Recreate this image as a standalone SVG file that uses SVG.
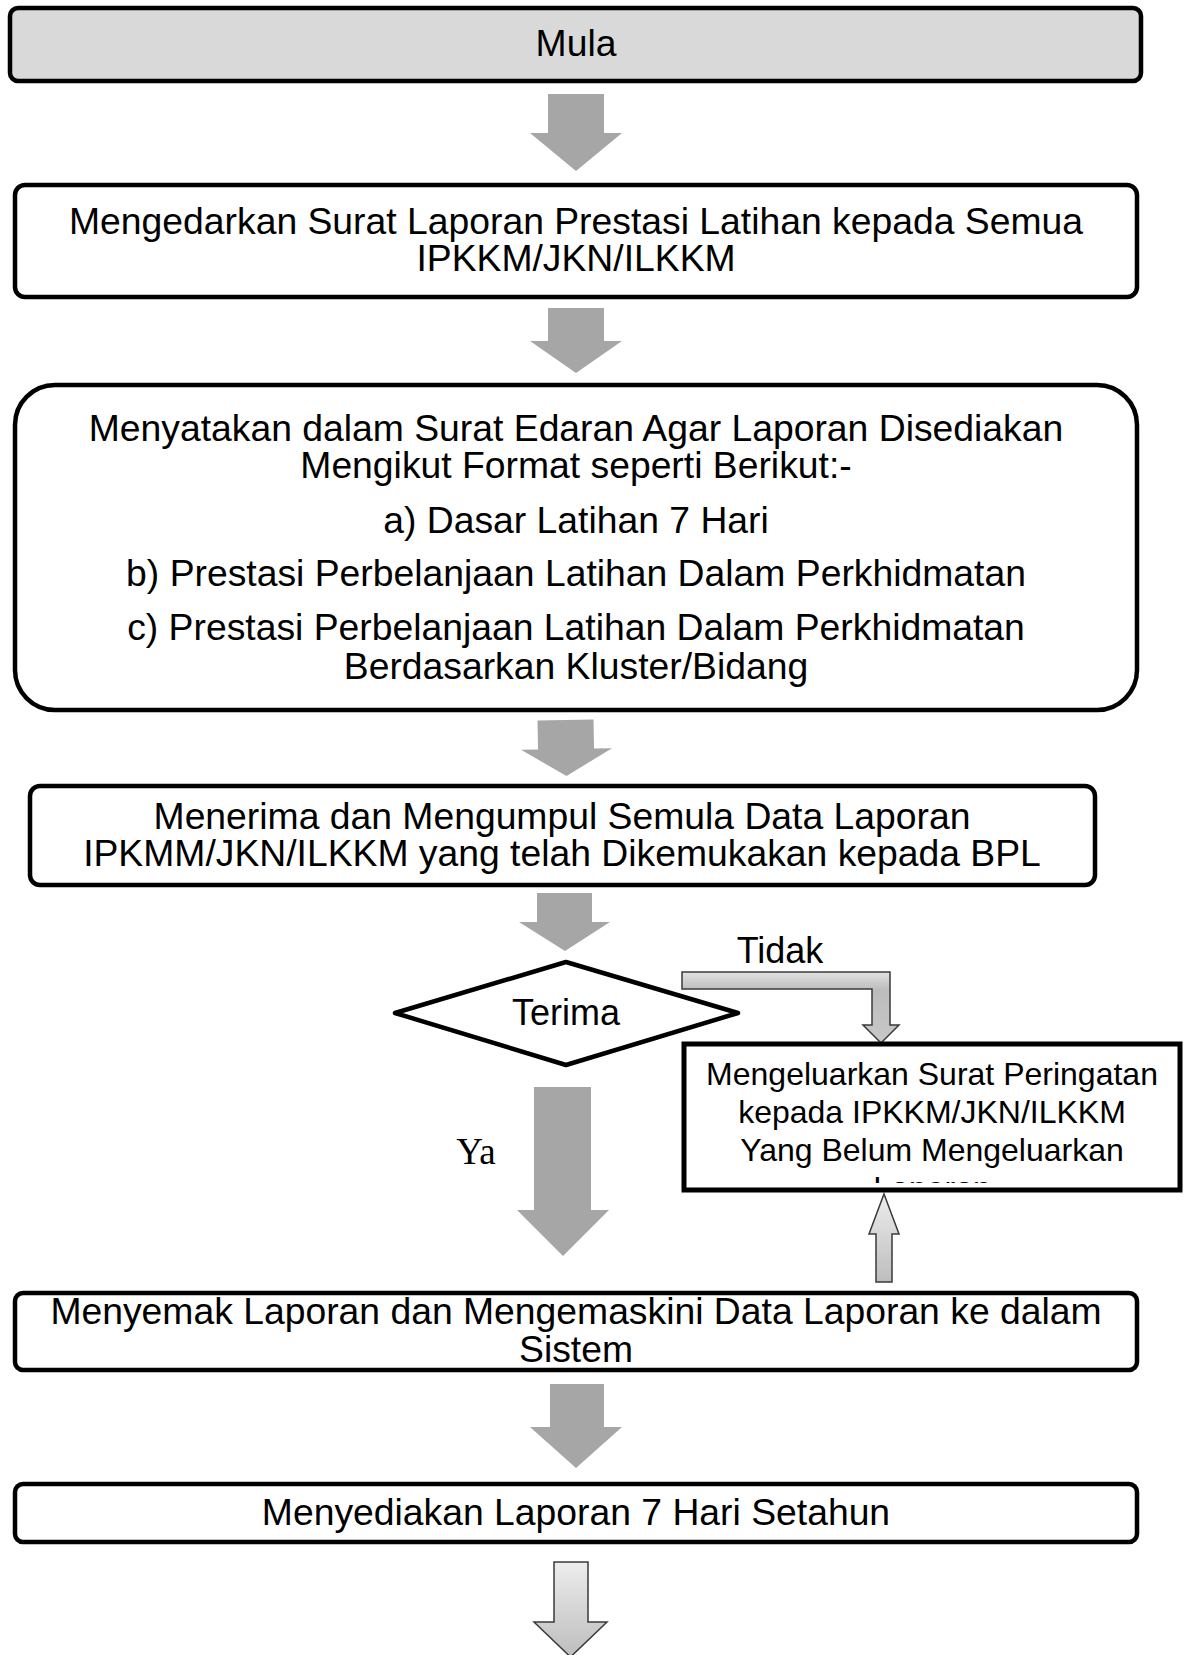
<svg xmlns="http://www.w3.org/2000/svg" width="1184" height="1655" viewBox="0 0 1184 1655">
<defs>
<style>
.box{fill:#fff;stroke:#000;stroke-width:4.5}
.t{font-family:"Liberation Sans",Arial,sans-serif;font-size:37.3px;text-anchor:middle;fill:#000}
.ga{fill:#a6a6a6}
.la{stroke:#3a3a3a;stroke-width:1.5;stroke-linejoin:miter}
</style>
<linearGradient id="lg" x1="0" y1="0" x2="0" y2="1">
<stop offset="0" stop-color="#ededed"/>
<stop offset="1" stop-color="#bdbdbd"/>
</linearGradient>
<linearGradient id="lgb" gradientUnits="userSpaceOnUse" x1="0" y1="972" x2="0" y2="1043">
<stop offset="0" stop-color="#e2e2e2"/>
<stop offset="0.25" stop-color="#bcbcbc"/>
<stop offset="1" stop-color="#c8c8c8"/>
</linearGradient>
<clipPath id="wclip"><rect x="686" y="1046" width="492" height="137"/></clipPath>
</defs>

<g id="connectors">
<polygon class="ga" points="548,94 604,94 604,133 622,133 576,171 530,133 548,133"/>
<polygon class="ga" points="548,308 604,308 604,341 622,341 576,373 530,341 548,341"/>
<polygon class="ga" points="538,720 594,720 594,749 612,749 566,776 521,749 538,749" transform="rotate(-1 566 748)"/>
<polygon class="ga" points="537,893 592,893 592,922 610,922 565,951 519,922 537,922"/>
<polygon class="ga" points="534,1087 591,1087 591,1210 609,1210 563,1256 517,1210 534,1210"/>
<polygon class="ga" points="550,1384 604,1384 604,1427 622,1427 576,1468 530,1427 550,1427"/>
<polygon class="la" fill="url(#lgb)" points="682,972 890,972 890,1025 899,1025 881,1043 863,1025 872,1025 872,989 682,989"/>
<polygon class="la" fill="url(#lg)" points="884,1194 899,1234 892,1234 892,1282 876,1282 876,1234 869,1234"/>
<polygon class="la" fill="url(#lg)" points="554,1562 588,1562 588,1622 607,1622 570.5,1657 534,1622 554,1622"/>
<text x="780" y="963" class="t" style="font-size:36px">Tidak</text>
<text x="476" y="1164" style="font-family:'Liberation Serif','Times New Roman',serif;font-size:37px;text-anchor:middle">Ya</text>
</g>

<g id="mula">
<rect x="10" y="8" width="1131" height="73" rx="8" class="box" style="fill:#d9d9d9"/>
<text x="576" y="56" class="t">Mula</text>
</g>

<g id="edar">
<rect x="15" y="185" width="1122" height="112" rx="10" class="box"/>
<text x="576" y="234" class="t">Mengedarkan Surat Laporan Prestasi Latihan kepada Semua</text>
<text x="576" y="271" class="t">IPKKM/JKN/ILKKM</text>
</g>

<g id="format">
<rect x="15" y="385" width="1122" height="325" rx="40" class="box"/>
<text x="576" y="441" class="t">Menyatakan dalam Surat Edaran Agar Laporan Disediakan</text>
<text x="576" y="478" class="t">Mengikut Format seperti Berikut:-</text>
<text x="576" y="533" class="t">a) Dasar Latihan 7 Hari</text>
<text x="576" y="586" class="t">b) Prestasi Perbelanjaan Latihan Dalam Perkhidmatan</text>
<text x="576" y="640" class="t">c) Prestasi Perbelanjaan Latihan Dalam Perkhidmatan</text>
<text x="576" y="679" class="t">Berdasarkan Kluster/Bidang</text>
</g>

<g id="terima-data">
<rect x="30" y="786" width="1065" height="99" rx="10" class="box"/>
<text x="562" y="829" class="t">Menerima dan Mengumpul Semula Data Laporan</text>
<text x="562" y="866" class="t">IPKMM/JKN/ILKKM yang telah Dikemukakan kepada BPL</text>
</g>

<g id="keputusan">
<polygon points="395,1013 566,962 738,1013 566,1065" style="fill:#fff;stroke:#000;stroke-width:4.5;stroke-linejoin:round"/>
<text x="566" y="1025" class="t" style="font-size:36px">Terima</text>
</g>

<g id="peringatan">
<rect x="684" y="1044" width="496" height="146" style="fill:#fff;stroke:#000;stroke-width:5"/>
<g clip-path="url(#wclip)">
<text x="932" y="1085" class="t" style="font-size:32px">Mengeluarkan Surat Peringatan</text>
<text x="932" y="1123" class="t" style="font-size:32px">kepada IPKKM/JKN/ILKKM</text>
<text x="932" y="1161" class="t" style="font-size:32px">Yang Belum Mengeluarkan</text>
<text x="932" y="1199" class="t" style="font-size:32px">Laporan</text>
</g>
</g>

<g id="semak">
<rect x="15" y="1293" width="1122" height="77" rx="8" class="box"/>
<text x="576" y="1324" class="t">Menyemak Laporan dan Mengemaskini Data Laporan ke dalam</text>
<text x="576" y="1362" class="t">Sistem</text>
</g>

<g id="sedia">
<rect x="15" y="1484" width="1122" height="58" rx="8" class="box"/>
<text x="576" y="1525" class="t">Menyediakan Laporan 7 Hari Setahun</text>
</g>
</svg>
